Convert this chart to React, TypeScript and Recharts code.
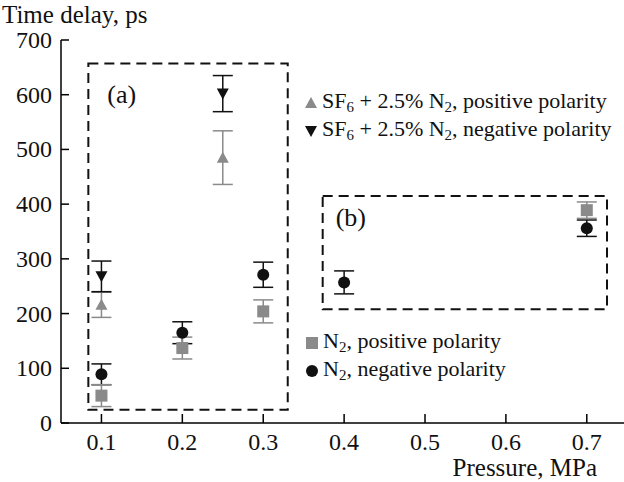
import React from "react"
import { ScatterChart, Scatter, XAxis, YAxis, ErrorBar, ReferenceArea } from "recharts"

const FONT = "'Liberation Serif', 'Times New Roman', serif"
const GRAY = "#8a8a8a"
const BLACK = "#111"

// axes
const xTicks = [0.1, 0.2, 0.3, 0.4, 0.5, 0.6, 0.7]
const yTicks = [0, 100, 200, 300, 400, 500, 600, 700]

// SF6 + 2.5% N2
const sf6PosPressure = [0.1, 0.25]
const sf6PosDelay = [216, 485]
const sf6PosErr = [23, 49]

const sf6NegPressure = [0.1, 0.25]
const sf6NegDelay = [268, 602]
const sf6NegErr = [28, 33]

// N2
const n2PosPressure = [0.1, 0.2, 0.3, 0.7]
const n2PosDelay = [50, 137, 204, 389]
const n2PosErr = [20, 20, 21, 15]

const n2NegPressure = [0.1, 0.2, 0.3, 0.4, 0.7]
const n2NegDelay = [89, 165, 271, 257, 356]
const n2NegErr = [19, 20, 23, 21, 15]

// legend labels ("_6" means subscript 6)
const topLegend = ["SF_6 + 2.5% N_2, positive polarity", "SF_6 + 2.5% N_2, negative polarity"]
const bottomLegend = ["N_2, positive polarity", "N_2, negative polarity"]

// dashed region boxes (data units)
const boxA = { x1: 0.0838, x2: 0.3303, y1: 24, y2: 657, label: "(a)" }
const boxB = { x1: 0.3735, x2: 0.725, y1: 208, y2: 415, label: "(b)" }

const toRows = (xs: number[], ys: number[], es: number[]) =>
  xs.map((x, i) => ({ x, y: ys[i], err: es[i] }))

const sf6Pos = toRows(sf6PosPressure, sf6PosDelay, sf6PosErr)
const sf6Neg = toRows(sf6NegPressure, sf6NegDelay, sf6NegErr)
const n2Pos = toRows(n2PosPressure, n2PosDelay, n2PosErr)
const n2Neg = toRows(n2NegPressure, n2NegDelay, n2NegErr)

type Kind = "up" | "down" | "square" | "circle"

function Marker({ kind, cx, cy, fill }: { kind: Kind; cx: number; cy: number; fill: string }) {
  if (kind === "up") return <polygon points={`${cx - 6},${cy + 5} ${cx + 6},${cy + 5} ${cx},${cy - 6}`} fill={fill} />
  if (kind === "down") return <polygon points={`${cx - 6},${cy - 5} ${cx + 6},${cy - 5} ${cx},${cy + 6}`} fill={fill} />
  if (kind === "square") return <rect x={cx - 6} y={cy - 6} width={12} height={12} fill={fill} />
  return <circle cx={cx} cy={cy} r={6} fill={fill} />
}

const shapeOf = (kind: Kind, fill: string) => (p: any) => <Marker kind={kind} cx={p.cx} cy={p.cy} fill={fill} />

function XTick({ x, y, payload }: any) {
  return (
    <g>
      <line x1={x} x2={x} y1={y} y2={y - 9} stroke="#000" strokeWidth={1.5} />
      <text x={x} y={y + 27} textAnchor="middle" fontSize={24} fontFamily={FONT} fill="#111">
        {payload.value}
      </text>
    </g>
  )
}

function YTick({ x, y, payload }: any) {
  return (
    <g>
      <line x1={x} x2={x + 8} y1={y} y2={y} stroke="#000" strokeWidth={1.5} />
      <text x={x - 9} y={y + 8} textAnchor="end" fontSize={24} fontFamily={FONT} fill="#111">
        {payload.value}
      </text>
    </g>
  )
}

function Sub({ text }: { text: string }) {
  const parts = text.split(/_(\d)/)
  return (
    <>
      {parts.map((p, i) =>
        i % 2 === 1 ? (
          <sub key={i} style={{ fontSize: "0.68em", verticalAlign: "-0.3em" }}>{p}</sub>
        ) : (
          <span key={i}>{p}</span>
        )
      )}
    </>
  )
}

function LegendRow({ top, left, kind, fill, text }: { top: number; left: number; kind: Kind; fill: string; text: string }) {
  return (
    <div
      style={{
        position: "absolute", top, left, height: 24, display: "flex", alignItems: "center",
        fontFamily: FONT, fontSize: 22, color: "#111", whiteSpace: "nowrap", lineHeight: 1,
      }}
    >
      <svg width={12} height={14} style={{ marginRight: 5 }}>
        <Marker kind={kind} cx={6} cy={7} fill={fill} />
      </svg>
      <span><Sub text={text} /></span>
    </div>
  )
}

export default function App() {
  const boxLabel = (text: string, dx: number, dy: number) => (props: any) => (
    <text x={props.viewBox.x + dx} y={props.viewBox.y + dy} fontSize={26} fontFamily={FONT} fill="#111">
      {text}
    </text>
  )
  return (
    <div style={{ position: "absolute", left: 0, top: 0, width: 624, height: 482, background: "#fff" }}>
      <ScatterChart width={624} height={482} margin={{ top: 40, right: 0, bottom: 0, left: 0 }}>
        <XAxis
          type="number"
          dataKey="x"
          domain={[0.05, 0.746]}
          ticks={xTicks}
          height={59}
          stroke="#000"
          strokeWidth={1.5}
          tickSize={0}
          tickMargin={0}
          tickLine={false}
          tick={<XTick />}
          allowDataOverflow
          label={(p: any) => (
            <text x={p.viewBox.x + p.viewBox.width - 27} y={p.viewBox.y + 53} textAnchor="end" fontSize={25} fontFamily={FONT} fill="#111">
              Pressure, MPa
            </text>
          )}
        />
        <YAxis
          type="number"
          dataKey="y"
          domain={[0, 700]}
          ticks={yTicks}
          width={61}
          stroke="#000"
          strokeWidth={1.5}
          tickSize={0}
          tickMargin={0}
          tickLine={false}
          tick={<YTick />}
          allowDataOverflow
          label={(p: any) => (
            <text x={2} y={p.viewBox.y - 17} fontSize={25} fontFamily={FONT} fill="#111">
              Time delay, ps
            </text>
          )}
        />
        <ReferenceArea x1={boxA.x1} x2={boxA.x2} y1={boxA.y1} y2={boxA.y2} fill="none" stroke="#111" strokeWidth={2} strokeDasharray="10 6" ifOverflow="visible" label={boxLabel(boxA.label, 19, 39)} />
        <ReferenceArea x1={boxB.x1} x2={boxB.x2} y1={boxB.y1} y2={boxB.y2} fill="none" stroke="#111" strokeWidth={2} strokeDasharray="10 6" ifOverflow="visible" label={boxLabel(boxB.label, 13, 30)} />
        <Scatter data={sf6Pos} fill={GRAY} shape={shapeOf("up", GRAY)} isAnimationActive={false}>
          <ErrorBar dataKey="err" direction="y" width={10} stroke={GRAY} strokeWidth={1.5} />
        </Scatter>
        <Scatter data={sf6Neg} fill={BLACK} shape={shapeOf("down", BLACK)} isAnimationActive={false}>
          <ErrorBar dataKey="err" direction="y" width={10} stroke={BLACK} strokeWidth={1.5} />
        </Scatter>
        <Scatter data={n2Neg} fill={BLACK} shape={shapeOf("circle", BLACK)} isAnimationActive={false}>
          <ErrorBar dataKey="err" direction="y" width={10} stroke={BLACK} strokeWidth={1.5} />
        </Scatter>
        <Scatter data={n2Pos} fill={GRAY} shape={shapeOf("square", GRAY)} isAnimationActive={false}>
          <ErrorBar dataKey="err" direction="y" width={10} stroke={GRAY} strokeWidth={1.5} />
        </Scatter>
      </ScatterChart>
      <LegendRow top={91} left={305} kind="up" fill={GRAY} text={topLegend[0]} />
      <LegendRow top={119} left={305} kind="down" fill={BLACK} text={topLegend[1]} />
      <LegendRow top={331} left={306} kind="square" fill={GRAY} text={bottomLegend[0]} />
      <LegendRow top={359} left={306} kind="circle" fill={BLACK} text={bottomLegend[1]} />
    </div>
  )
}
